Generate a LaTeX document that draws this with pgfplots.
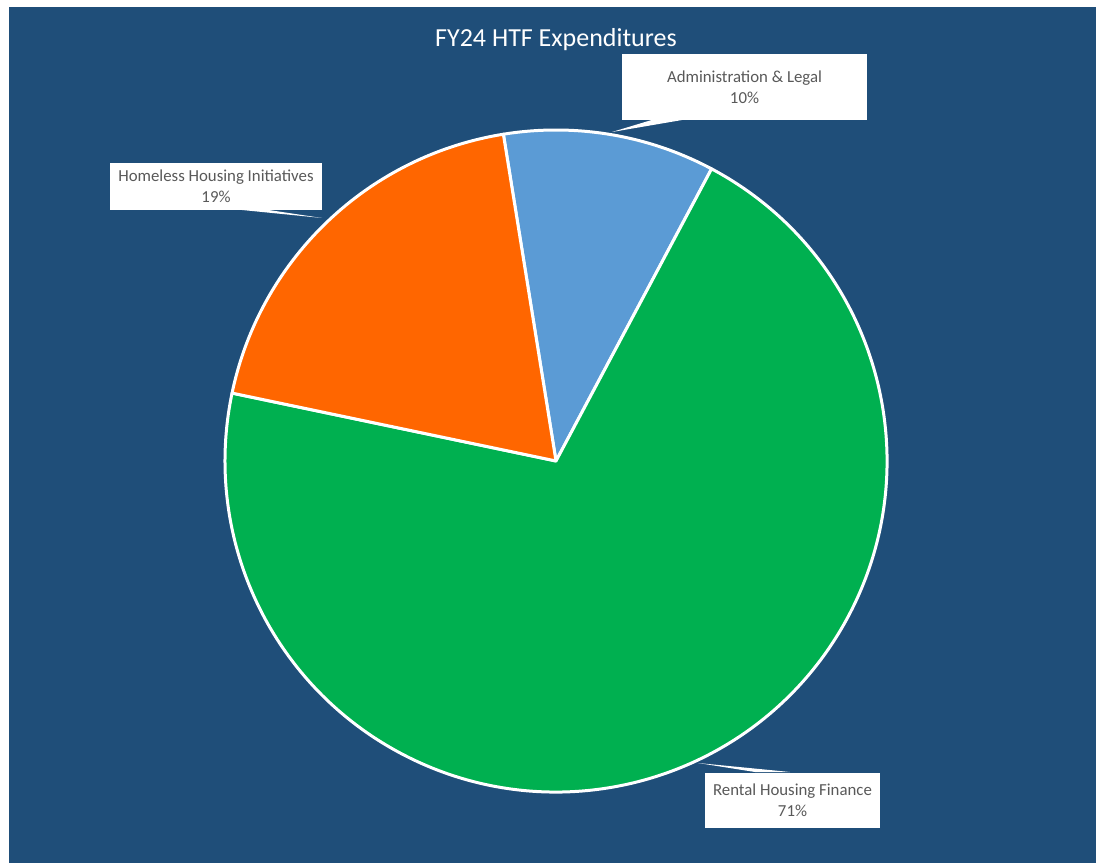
\documentclass[border=0pt]{standalone}
\usepackage{fontspec}
\setmainfont{Carlito}
\usepackage{pgfplots}
\usepackage{pgfplotstable}
\pgfplotsset{compat=1.18}

\definecolor{bgblue}{HTML}{1F4E79}
\definecolor{admin}{HTML}{5B9BD5}
\definecolor{rental}{HTML}{00B050}
\definecolor{homeless}{HTML}{FF6600}
\definecolor{labelgray}{HTML}{595959}

% slices, clockwise from the top
\pgfplotstableread{
value colour
10.33 admin
70.50 rental
19.17 homeless
}\piedata

\begin{document}
\begin{tikzpicture}
\begin{axis}[
	scale only axis,
	width=548pt, height=431.5pt,
	xmin=0, xmax=1096, ymin=0, ymax=863,
	hide axis, clip=false,
]
\pgfplotsextra{
	\fill[white] (axis cs:0,0) rectangle (axis cs:1096,863);
	\fill[bgblue] (axis cs:9,0) rectangle (axis cs:1096,856);
	\xdef\curang{99.15}
	\foreach \i in {0,1,2} {
		\pgfplotstablegetelem{\i}{value}\of\piedata
		\let\v\pgfplotsretval
		\pgfplotstablegetelem{\i}{colour}\of\piedata
		\let\c\pgfplotsretval
		\pgfmathsetmacro\endang{\curang-3.6*\v}
		\filldraw[fill=\c, draw=white, line width=1.5pt, line join=round]
			(axis cs:556,402) -- ++(\curang:165.5pt)
			arc[start angle=\curang, end angle=\endang, radius=165.5pt] -- cycle;
		\xdef\curang{\endang}
	}
	% leader lines
	\fill[white] (axis cs:612,731) -- (axis cs:655,744) -- (axis cs:688,744) -- cycle;
	\fill[white] (axis cs:322,645) -- (axis cs:232,654) -- (axis cs:262,654) -- cycle;
	\fill[white] (axis cs:698,100) -- (axis cs:755,91) -- (axis cs:790,91) -- cycle;
	% data labels
	\tikzset{lbl/.style={fill=white, align=center, text=labelgray, inner sep=0pt,
		font=\fontsize{8.4}{10.5}\selectfont}}
	\node[lbl, minimum width=122.5pt, minimum height=33pt] at (axis cs:744.5,776)
		{Administration \& Legal\\10\%};
	\node[lbl, minimum width=106pt, minimum height=23.5pt] at (axis cs:216,676.5)
		{Homeless Housing Initiatives\\19\%};
	\node[lbl, minimum width=87.5pt, minimum height=27.5pt] at (axis cs:792.5,62.5)
		{Rental Housing Finance\\71\%};
	\node[text=white, font=\fontsize{13}{15}\selectfont] at (axis cs:556,823)
		{FY24 HTF Expenditures};
}
\end{axis}
\end{tikzpicture}
\end{document}
